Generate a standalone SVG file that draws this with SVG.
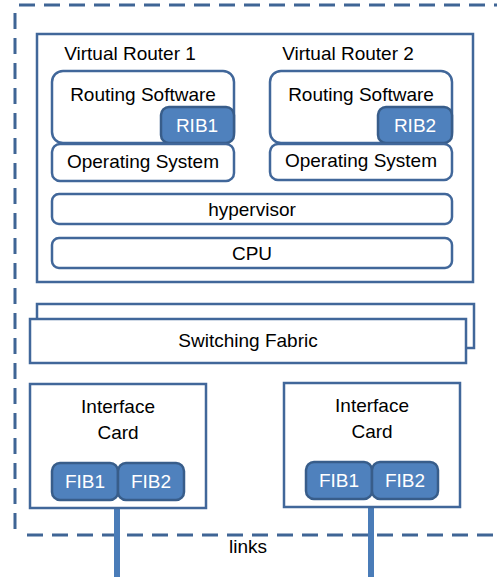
<svg xmlns="http://www.w3.org/2000/svg" width="497" height="577" viewBox="0 0 497 577">
<style>
  .box { fill: #ffffff; stroke: #41679a; stroke-width: 2.5; }
  .blue { fill: #4f81bd; stroke: #385d8a; stroke-width: 2.5; }
  .dash { fill: none; stroke: #3f6595; stroke-width: 3; stroke-dasharray: 16 9; }
  .link { stroke: #4a7cb8; stroke-width: 6; fill: none; }
  text { font-family: "Liberation Sans", Arial, sans-serif; font-size: 19px; fill: #000000; text-anchor: middle; }
  .wt { fill: #ffffff; }
</style>
<rect width="497" height="577" fill="#ffffff"/>

<g id="chassis-border">
  <line class="dash" x1="19" y1="5" x2="497" y2="5"/>
  <line class="dash" x1="15" y1="13" x2="15" y2="535"/>
  <line class="dash" x1="27" y1="535" x2="497" y2="535"/>
</g>

<g id="server">
  <rect class="box" x="37" y="34" width="436" height="248"/>
</g>

<g id="virtual-router-1">
  <text x="130" y="60">Virtual Router 1</text>
  <g id="routing-software-1">
    <rect class="box" x="52" y="71" width="182" height="72" rx="11"/>
    <text x="143" y="101">Routing Software</text>
  </g>
  <g id="rib1">
    <rect class="blue" x="161" y="107" width="73" height="36" rx="8"/>
    <text class="wt" x="197" y="132">RIB1</text>
  </g>
  <g id="os-1">
    <rect class="box" x="52" y="144" width="182" height="37" rx="8"/>
    <text x="143" y="168">Operating System</text>
  </g>
</g>

<g id="virtual-router-2">
  <text x="348" y="60">Virtual Router 2</text>
  <g id="routing-software-2">
    <rect class="box" x="270" y="71" width="182" height="72" rx="11"/>
    <text x="361" y="101">Routing Software</text>
  </g>
  <g id="rib2">
    <rect class="blue" x="378" y="107" width="74" height="36" rx="8"/>
    <text class="wt" x="415" y="132">RIB2</text>
  </g>
  <g id="os-2">
    <rect class="box" x="270" y="144" width="182" height="36" rx="8"/>
    <text x="361" y="167">Operating System</text>
  </g>
</g>

<g id="hypervisor">
  <rect class="box" x="52" y="194" width="400" height="30" rx="7"/>
  <text x="252" y="216">hypervisor</text>
</g>

<g id="cpu">
  <rect class="box" x="52" y="238" width="400" height="30" rx="7"/>
  <text x="252" y="260">CPU</text>
</g>

<g id="switching-fabric">
  <rect class="box" x="37" y="304" width="437" height="44"/>
  <rect class="box" x="30" y="319" width="436" height="44"/>
  <text x="248" y="347">Switching Fabric</text>
</g>

<g id="connectors">
  <line class="link" x1="117" y1="508" x2="117" y2="577"/>
  <line class="link" x1="371" y1="507" x2="371" y2="577"/>
</g>

<g id="interface-card-1">
  <rect class="box" x="30" y="384" width="176" height="124"/>
  <text x="118" y="413">Interface</text>
  <text x="118" y="439">Card</text>
  <rect class="blue" x="52" y="463" width="66" height="37" rx="8"/>
  <text class="wt" x="85" y="488">FIB1</text>
  <rect class="blue" x="118" y="463" width="66" height="37" rx="8"/>
  <text class="wt" x="151" y="488">FIB2</text>
</g>

<g id="interface-card-2">
  <rect class="box" x="284" y="383" width="176" height="124"/>
  <text x="372" y="412">Interface</text>
  <text x="372" y="438">Card</text>
  <rect class="blue" x="306" y="462" width="66" height="37" rx="8"/>
  <text class="wt" x="339" y="487">FIB1</text>
  <rect class="blue" x="372" y="462" width="66" height="37" rx="8"/>
  <text class="wt" x="405" y="487">FIB2</text>
</g>

<g id="links-label">
  <text x="248" y="553">links</text>
</g>
</svg>
